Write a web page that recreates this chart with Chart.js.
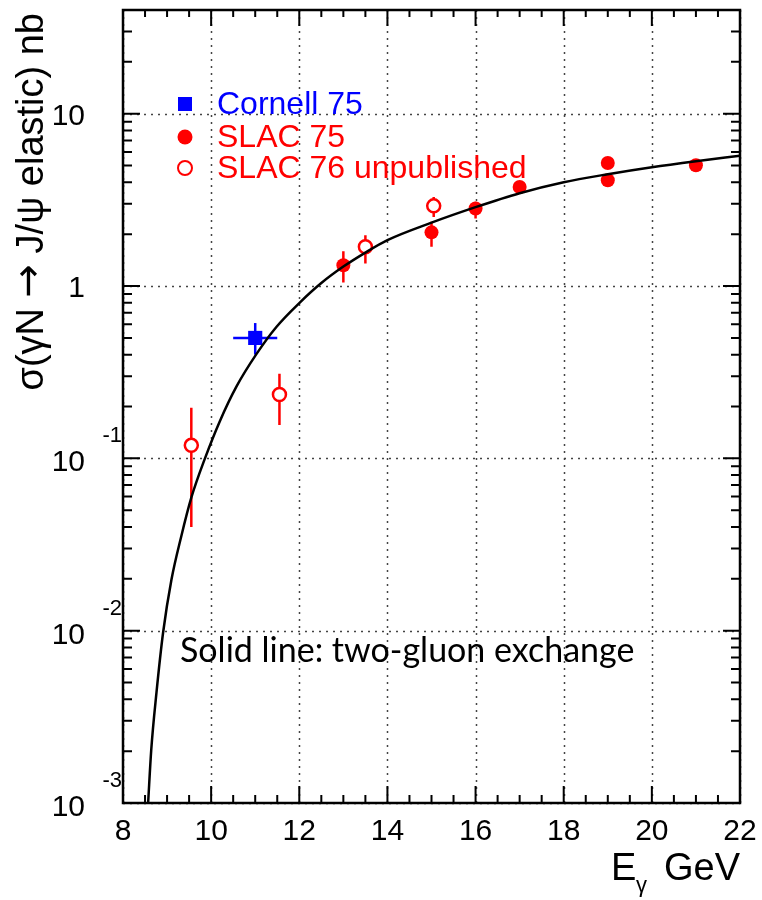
<!DOCTYPE html>
<html>
<head>
<meta charset="utf-8">
<script src="https://cdn.jsdelivr.net/npm/chart.js@4.4.0/dist/chart.umd.min.js"></script>
<style>
  html, body { margin: 0; padding: 0; background: #fff; }
  #wrap { width: 762px; height: 900px; }
</style>
</head>
<body>
<div id="wrap"><canvas id="chart" width="762" height="900"></canvas></div>
<script>
// Cornell 75 (blue square, with energy bin)
const cornellE = [11.0];
const cornellSigma = [0.50];
const cornellLow = [0.40];
const cornellHigh = [0.61];
const cornellEMin = [10.5];
const cornellEMax = [11.5];

// SLAC 75 (filled red circles)
const slac75E = [13.0, 15.0, 16.0, 17.0, 19.0, 19.0, 21.0];
const slac75Sigma = [1.32, 2.05, 2.82, 3.76, 5.18, 4.11, 5.02];
const slac75Low = [1.05, 1.69, 2.47, 3.55, 4.9, 3.9, 4.8];
const slac75High = [1.59, 2.36, 3.08, 3.95, 5.45, 4.3, 5.25];

// SLAC 76 unpublished (open red circles)
const slac76E = [9.55, 11.55, 13.5, 15.05];
const slac76Sigma = [0.119, 0.235, 1.69, 2.92];
const slac76Low = [0.040, 0.156, 1.35, 2.52];
const slac76High = [0.197, 0.31, 1.97, 3.29];

// two-gluon exchange curve
const curveE = [8.57, 8.64, 8.76, 8.91, 9.10, 9.32, 9.55, 9.86, 10.2, 10.57, 11.03, 11.48, 12.0, 12.5, 13.0, 13.5, 14.0, 15.0, 16.0, 17.0, 18.0, 19.0, 20.0, 21.0, 22.0];
const curveSigma = [0.001, 0.00202, 0.00438, 0.00976, 0.0198, 0.0351, 0.0591, 0.100, 0.165, 0.260, 0.404, 0.579, 0.797, 1.041, 1.297, 1.564, 1.847, 2.333, 2.870, 3.458, 4.004, 4.456, 4.891, 5.299, 5.703];

const xTicks = [8, 10, 12, 14, 16, 18, 20, 22];
const yDecades = [0.001, 0.01, 0.1, 1, 10];
const yLabels = ["10", "10", "10", "1", "10"];
const yExponents = ["-3", "-2", "-1", "", ""];
const legendLabels = ["Cornell 75", "SLAC 75", "SLAC 76 unpublished"];

const RED = "#ff0000";
const BLUE = "#0000ff";
const SANS = "'Liberation Sans', Arial, sans-serif";
const toPoints = (xs, ys) => xs.map((v, i) => ({ x: v, y: ys[i] }));

const plotDecor = {
  id: "plotDecor",
  beforeDatasetsDraw(chart) {
    const { ctx, chartArea: a, scales: { x, y } } = chart;
    ctx.save();
    // dotted grid
    ctx.strokeStyle = "#444";
    ctx.lineWidth = 1.5;
    ctx.setLineDash([2, 5]);
    ctx.beginPath();
    xTicks.forEach(v => {
      const px = Math.round(x.getPixelForValue(v)) + 0.5;
      ctx.moveTo(px, a.top); ctx.lineTo(px, a.bottom);
    });
    yDecades.forEach(v => {
      const py = Math.round(y.getPixelForValue(v)) + 0.5;
      ctx.moveTo(a.left, py); ctx.lineTo(a.right, py);
    });
    ctx.stroke();
    ctx.setLineDash([]);

    // error bars
    ctx.lineWidth = 2.5;
    const vbars = (xs, lo, hi, color) => {
      ctx.strokeStyle = color;
      ctx.beginPath();
      xs.forEach((v, i) => {
        const px = x.getPixelForValue(v);
        ctx.moveTo(px, y.getPixelForValue(lo[i]));
        ctx.lineTo(px, y.getPixelForValue(hi[i]));
      });
      ctx.stroke();
    };
    vbars(slac76E, slac76Low, slac76High, RED);
    vbars(slac75E, slac75Low, slac75High, RED);
    vbars(cornellE, cornellLow, cornellHigh, BLUE);
    ctx.strokeStyle = BLUE;
    ctx.beginPath();
    cornellE.forEach((v, i) => {
      const py = y.getPixelForValue(cornellSigma[i]);
      ctx.moveTo(x.getPixelForValue(cornellEMin[i]), py);
      ctx.lineTo(x.getPixelForValue(cornellEMax[i]), py);
    });
    ctx.stroke();
    ctx.restore();
  },
  afterDraw(chart) {
    const { ctx, chartArea: a, scales: { x, y } } = chart;
    ctx.save();
    ctx.strokeStyle = "#000";
    ctx.fillStyle = "#000";

    // frame
    ctx.lineWidth = 2.5;
    ctx.strokeRect(a.left, a.top, a.right - a.left, a.bottom - a.top);

    // tick marks, inside on all four sides
    ctx.lineWidth = 2;
    ctx.beginPath();
    for (let v = 8; v <= 22.001; v += 0.5) {
      const px = x.getPixelForValue(v);
      const major = Math.abs(v - Math.round(v / 2) * 2) < 0.01;
      ctx.moveTo(px, a.bottom); ctx.lineTo(px, a.bottom - (major ? 17 : 8));
      ctx.moveTo(px, a.top); ctx.lineTo(px, a.top + (major ? 16 : 7));
    }
    for (let d = 0.001; d < 50; d *= 10) {
      for (let m = 1; m <= 9; m++) {
        const v = d * m;
        if (v > 40.01) break;
        const py = y.getPixelForValue(v);
        const len = m === 1 ? 17 : 9;
        ctx.moveTo(a.left, py); ctx.lineTo(a.left + len, py);
        ctx.moveTo(a.right, py); ctx.lineTo(a.right - len, py);
      }
    }
    ctx.stroke();

    // x tick labels
    ctx.font = "30px " + SANS;
    ctx.textAlign = "center";
    ctx.textBaseline = "alphabetic";
    xTicks.forEach(v => ctx.fillText(String(v), x.getPixelForValue(v), 840));

    // y tick labels with exponents
    yDecades.forEach((v, i) => {
      const py = y.getPixelForValue(v);
      ctx.font = "30px " + SANS;
      ctx.textAlign = "right";
      ctx.fillText(yLabels[i], 85, py + (yExponents[i] ? 13 : 11));
      if (yExponents[i]) {
        ctx.font = "22px " + SANS;
        ctx.fillText(yExponents[i], 122, py - 16);
      }
    });

    // y axis title, rotated, built from pieces so the arrow is long
    ctx.save();
    ctx.translate(43, 0);
    ctx.rotate(-Math.PI / 2);
    ctx.textAlign = "left";
    ctx.textBaseline = "alphabetic";
    const parts = [
      ["σ(γN ", "38px " + SANS, 0],
      ["→", "40px 'DejaVu Sans', sans-serif", -2],
      [" J/ψ elastic) nb", "38px " + SANS, 0]
    ];
    let total = 0;
    parts.forEach(p => { ctx.font = p[1]; total += ctx.measureText(p[0]).width; });
    let tx = -13 - total;
    parts.forEach(p => {
      ctx.font = p[1];
      ctx.fillText(p[0], tx, p[2]);
      tx += ctx.measureText(p[0]).width;
    });
    ctx.restore();

    // x axis title
    ctx.font = "38px " + SANS;
    ctx.textAlign = "right";
    ctx.fillText("GeV", 740, 880);
    ctx.textAlign = "left";
    ctx.fillText("E", 611, 880);
    ctx.font = "22px " + SANS;
    ctx.fillText("γ", 636, 892);

    // legend
    const lx = 185;
    const rows = [104, 137, 168];
    ctx.fillStyle = BLUE;
    ctx.fillRect(lx - 7, rows[0] - 7, 14, 14);
    ctx.fillStyle = RED;
    ctx.beginPath(); ctx.arc(lx, rows[1], 7.5, 0, Math.PI * 2); ctx.fill();
    ctx.strokeStyle = RED; ctx.lineWidth = 2;
    ctx.beginPath(); ctx.arc(lx, rows[2], 7, 0, Math.PI * 2); ctx.stroke();
    ctx.font = "32px " + SANS;
    ctx.textBaseline = "middle";
    ctx.textAlign = "left";
    legendLabels.forEach((t, i) => {
      ctx.fillStyle = i === 0 ? BLUE : RED;
      ctx.fillText(t, 217, rows[i] + 1);
    });

    // note
    ctx.fillStyle = "#000";
    ctx.textBaseline = "alphabetic";
    ctx.font = "34px Lato, 'Open Sans', sans-serif";
    ctx.fillText("Solid line: two-gluon exchange", 180, 662);
    ctx.restore();
  }
};

new Chart(document.getElementById("chart").getContext("2d"), {
  type: "scatter",
  data: {
    datasets: [
      {
        label: "two-gluon exchange",
        data: toPoints(curveE, curveSigma),
        showLine: true,
        borderColor: "#000",
        borderWidth: 2.5,
        pointRadius: 0,
        cubicInterpolationMode: "monotone",
        fill: false
      },
      {
        label: legendLabels[0],
        data: toPoints(cornellE, cornellSigma),
        pointStyle: "rect",
        pointRadius: 10,
        backgroundColor: BLUE,
        borderColor: BLUE,
        borderWidth: 0
      },
      {
        label: legendLabels[1],
        data: toPoints(slac75E, slac75Sigma),
        pointStyle: "circle",
        pointRadius: 7,
        backgroundColor: RED,
        borderColor: RED,
        borderWidth: 0
      },
      {
        label: legendLabels[2],
        data: toPoints(slac76E, slac76Sigma),
        pointStyle: "circle",
        pointRadius: 6.5,
        backgroundColor: "#fff",
        borderColor: RED,
        borderWidth: 2.5
      }
    ]
  },
  options: {
    responsive: false,
    animation: false,
    events: [],
    layout: { padding: { left: 123, right: 22, top: 9, bottom: 97 } },
    plugins: {
      legend: { display: false },
      title: { display: false },
      tooltip: { enabled: false }
    },
    scales: {
      x: { type: "linear", min: 8, max: 22, display: false },
      y: { type: "logarithmic", min: 0.001, max: 40, display: false }
    }
  },
  plugins: [plotDecor]
});
</script>
</body>
</html>
